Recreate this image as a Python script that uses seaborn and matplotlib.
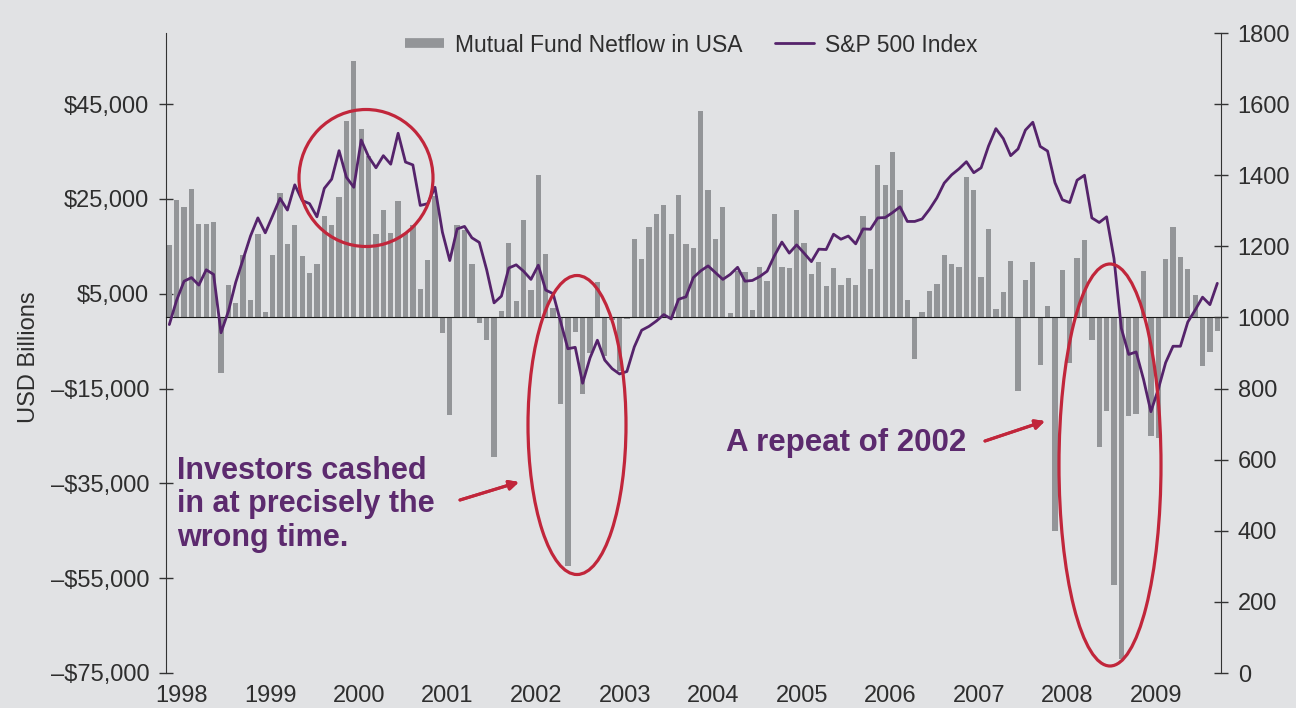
import numpy as np
import pandas as pd
import seaborn as sns
import matplotlib.pyplot as plt
from matplotlib.patches import Ellipse
from matplotlib.lines import Line2D

# monthly mutual fund net flows (USD bn), Jan 1998 - Nov 2009
netflow = [15200, 24700, 23400, 27000, 19800, 19700, 20100, -11800, 6800, 3000, 13200, 3700,
           17600, 1100, 13100, 26300, 15500, 19600, 12900, 9400, 11300, 21500, 19500, 25400,
           41400, 54100, 39800, 34000, 17500, 22600, 17800, 24500, 17800, 19600, 6000, 12200,
           25600, -3300, -20600, 19600, 18500, 11300, -1200, -4700, -29400, 1300, 15700, 3400,
           20500, 5800, 30100, 13300, 1900, -18300, -52500, -3100, -16100, -7400, 7400, -8100,
           -500, -11200, -400, 16500, 12400, 19000, 21900, 23800, 17700, 25800, 15400, 14600,
           43500, 26800, 16500, 23400, 900, 9800, 9600, 1600, 10700, 7600, 21900, 10700,
           10400, 22600, 15600, 9100, 11700, 6600, 10400, 6800, 8400, 6900, 21400, 10300,
           32100, 27900, 34900, 26800, 3700, -8700, 1100, 5500, 7000, 13200, 11300, 10600,
           29700, 26800, 8600, 18700, 1800, 5400, 12000, -15600, 8000, 11800, -10000, 2500,
           -45100, 10000, -9600, 12600, 16400, -4800, -27400, -19700, -56400, -72100, -20800, -20300,
           9700, -25100, -25500, 12400, 19000, 12700, 10200, 4700, -10200, -7200, -2800]

sp500 = [980, 1049, 1102, 1112, 1091, 1134, 1121, 957, 1017, 1099, 1164, 1229,
         1280, 1238, 1286, 1335, 1302, 1373, 1329, 1320, 1283, 1363, 1389, 1469,
         1394, 1366, 1499, 1452, 1421, 1455, 1431, 1518, 1437, 1429, 1315, 1320,
         1366, 1240, 1160, 1249, 1256, 1224, 1211, 1134, 1041, 1060, 1139, 1148,
         1130, 1107, 1147, 1077, 1067, 990, 912, 916, 815, 886, 936, 880,
         856, 841, 848, 917, 964, 975, 990, 1008, 996, 1051, 1058, 1112,
         1131, 1145, 1126, 1107, 1121, 1141, 1102, 1104, 1115, 1130, 1174, 1212,
         1181, 1204, 1181, 1157, 1192, 1191, 1234, 1220, 1229, 1207, 1249, 1248,
         1280, 1281, 1295, 1311, 1270, 1270, 1277, 1304, 1336, 1378, 1401, 1418,
         1438, 1407, 1421, 1482, 1531, 1503, 1455, 1474, 1527, 1549, 1481, 1468,
         1379, 1331, 1323, 1386, 1400, 1280, 1267, 1283, 1166, 969, 896, 903,
         826, 735, 798, 873, 919, 919, 987, 1021, 1057, 1036, 1096]

years = [str(y) for y in range(1998, 2010)]
left_ticks = [-75000, -55000, -35000, -15000, 5000, 25000, 45000]
left_labels = [("\u2013$" if v < 0 else "$") + f"{abs(v):,}" for v in left_ticks]
right_ticks = list(range(0, 1801, 200))

df = pd.DataFrame({"month": np.arange(len(netflow)), "netflow": netflow, "sp500": sp500})

W, H = 1296, 708
def fx(x):
    return x / W
def fy(y):
    return 1 - y / H

bg = "#E1E2E4"
gray = "#939598"
purple = "#55236B"
red = "#C1263B"
ink = "#2E2E2E"

sns.set_style("white")
plt.rcParams["font.family"] = ["Liberation Sans", "DejaVu Sans"]
plt.rcParams["text.color"] = ink

fig = plt.figure(figsize=(12.96, 7.08), dpi=100, facecolor=bg)
ax = fig.add_axes([fx(166), fy(673), fx(1221) - fx(166), fy(33) - fy(673)])
ax.set_facecolor(bg)

sns.barplot(data=df, x="month", y="netflow", color=gray, width=0.72, saturation=1,
            errorbar=None, linewidth=0, ax=ax)

ax.set_ylim(-75000, 60000)
ax.set_yticks(left_ticks)
ax.set_yticklabels(left_labels)
ax.set_xlabel("")
ax.set_ylabel("")
for s in ["top", "right"]:
    ax.spines[s].set_visible(False)
ax.spines["bottom"].set_position(("data", 0))
ax.spines["bottom"].set_color("#1a1a1a")
ax.spines["left"].set_color("#333333")
ax.set_xticks([6 * k - 0.35 for k in range(1, 24)])
ax.set_xticklabels([])
ax.tick_params(axis="x", direction="inout", length=9, width=1, color="#333333")
ax.tick_params(axis="y", direction="inout", length=10, width=1, color="#333333",
               labelsize=17, labelcolor=ink, pad=7)

sec = ax.secondary_xaxis("bottom")
sec.set_xticks([12 * k + 1.7 for k in range(len(years))], labels=years)
sec.spines["bottom"].set_visible(False)
sec.tick_params(length=0, labelsize=17, labelcolor=ink, pad=9)

ax2 = ax.twinx()
sns.lineplot(data=df, x="month", y="sp500", color=purple, linewidth=2.0, ax=ax2)
ax2.set_ylim(0, 1800)
ax2.set_yticks(right_ticks)
ax2.set_ylabel("")
ax2.set_xlabel("")
for s in ["top", "bottom", "left"]:
    ax2.spines[s].set_visible(False)
ax2.spines["right"].set_color("#333333")
ax2.tick_params(axis="y", direction="inout", length=10, width=1, color="#333333",
                labelsize=17, labelcolor=ink, pad=7)
ax.set_xlim(-0.45, 142.5)

fig.text(fx(29), fy(357), "USD Billions", rotation=90, ha="center", va="center",
         fontsize=17, color=ink)

handles = [Line2D([0], [0], color=gray, lw=7, solid_capstyle="butt"),
           Line2D([0], [0], color=purple, lw=2)]
fig.legend(handles, ["Mutual Fund Netflow in USA", "S&P 500 Index"], loc="center",
           bbox_to_anchor=(fx(691), fy(45)), ncol=2, frameon=False, fontsize=16.5,
           handlelength=1.7, handletextpad=0.5, columnspacing=1.4)

# highlight ellipses
for cx, cy, w, h in [(366, 178, 134, 137), (577, 425, 98, 299), (1110, 465, 102, 402)]:
    fig.add_artist(Ellipse((fx(cx), fy(cy)), w / W, h / H, transform=fig.transFigure,
                           fill=False, edgecolor=red, lw=2.3))

note_style = dict(fontweight="bold", color="#5C2A6E", linespacing=1.15)
fig.text(fx(177), fy(456), "Investors cashed\nin at precisely the\nwrong time.",
         ha="left", va="top", fontsize=22, **note_style)
fig.text(fx(726), fy(451), "A repeat of 2002", ha="left", va="baseline",
         fontsize=22.5, **note_style)

arrow = dict(arrowstyle="-|>", lw=2.2, color=red, mutation_scale=14, shrinkA=0, shrinkB=0)
fig.add_artist(plt.annotate("", xy=(fx(519), fy(482)), xytext=(fx(460), fy(500)),
                            xycoords="figure fraction", textcoords="figure fraction",
                            arrowprops=arrow))
fig.add_artist(plt.annotate("", xy=(fx(1045), fy(421)), xytext=(fx(985), fy(441)),
                            xycoords="figure fraction", textcoords="figure fraction",
                            arrowprops=arrow))

fig.savefig("out.png", dpi=100, facecolor=bg)
